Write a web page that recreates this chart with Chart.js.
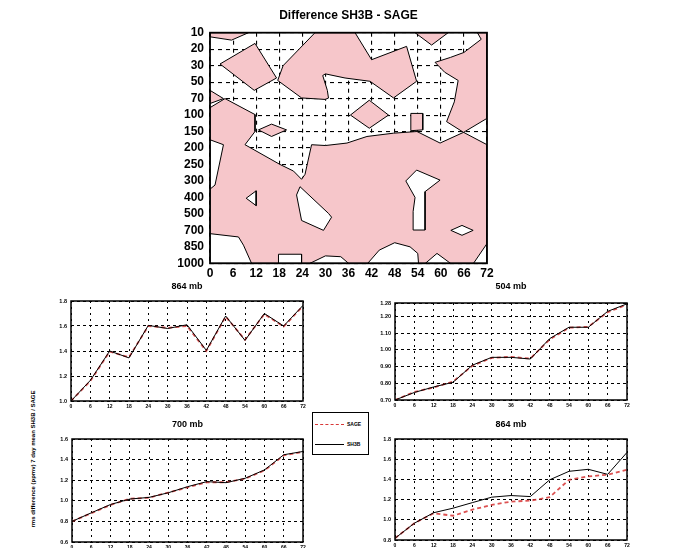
<!DOCTYPE html>
<html lang="en">
<head>
<meta charset="UTF-8">
<title>Difference SH3B - SAGE</title>
<script src="https://cdn.jsdelivr.net/npm/chart.js"></script>
<style>
  body { margin: 0; background: #fff; font-family: 'Liberation Sans', Arial, sans-serif; }
  #page { position: relative; width: 679px; height: 548px; overflow: hidden; background: #fff; }
  #page canvas { position: absolute; }
  #legend { position: absolute; left: 312px; top: 412px; width: 55px; height: 41px; border: 1px solid #000; background: #fff; }
  .key { position: absolute; left: 2px; width: 29px; height: 0; }
  .key.sage { top: 11px; border-top: 1.5px dashed #d83838; }
  .key.sh3b { top: 31px; border-top: 1px solid #000; }
  .key-label { position: absolute; left: 34px; font-size: 5px; line-height: 6px; font-weight: bold; }
  #ylabel { position: absolute; left: 33px; top: 459px; transform: translate(-50%, -50%) rotate(-90deg);
            white-space: nowrap; font-size: 6px; font-weight: bold; }
</style>
</head>
<body>
<div id="page">
  <div id="ylabel">rms difference (ppmv) 7 day mean SH3B / SAGE</div>
  <div id="legend">
    <div class="key sage"></div><div class="key-label" style="top:8px">SAGE</div>
    <div class="key sh3b"></div><div class="key-label" style="top:28px">SH3B</div>
  </div>
</div>
<script>
// forecast hours and pressure levels
const hours = [0, 6, 12, 18, 24, 30, 36, 42, 48, 54, 60, 66, 72];
const levels = ['10', '20', '30', '50', '70', '100', '150', '200', '250', '300', '400', '500', '700', '850', '1000'];

// contour outlines of the difference field: [hour, level index]
const pinkLower = [[0, 4.55], [3.9, 4.0], [11.7, 4.97], [11.7, 6.0], [9.1, 6.8], [18.2, 8.0], [21.7, 8.4], [23.8, 8.9],
  [24.7, 8.6], [26.4, 6.8], [30, 6.85], [35.6, 6.7], [40.8, 6.3], [47.7, 6.1], [53.8, 6.0], [59.8, 6.7],
  [65.9, 6.05], [72, 6.8], [72, 14], [0, 14]];
const pinkTopCorner = [[0, 0], [10, 0], [5.6, 0.45], [0, 0.25]];
const pinkWest = [[2.6, 1.9], [11.7, 0.65], [17.3, 2.75], [11.5, 3.5]];
const pinkCentre = [[27.3, 0], [37.7, 0], [42, 1.64], [51.1, 0.83], [53.7, 2.95], [47.7, 3.96], [41.6, 2.95],
  [35.1, 2.75], [30, 2.5], [29.3, 2.6], [30.5, 3.5], [30.8, 3.97], [29.9, 4.05], [23.8, 3.96], [17.6, 2.9], [19, 2.0]];
const pinkTopRight = [[53.3, 0], [61.9, 0], [57.6, 0.75]];
const pinkEast = [[69.5, 0], [72, 0], [72, 5.2], [65.9, 6.05], [61.5, 5.4], [63.5, 4.2], [64.5, 2.9], [61, 2.4],
  [58.5, 1.8], [62.5, 1.5], [66, 1.2], [70.5, 0.4]];
const pinkLeftWedge = [[0, 3.5], [3.5, 4.0], [0, 4.3]];
const pinkDiamondMid = [[36.5, 5.0], [41.4, 4.1], [46.4, 5.0], [41.4, 5.8]];
const pinkDiamondLeft = [[12.6, 5.9], [16, 5.55], [19.9, 5.9], [16, 6.3]];
const pinkBox = [[52.2, 5.95], [52.2, 4.9], [55.3, 4.9], [55.3, 5.9]];

const whiteLeft = [[0, 6.5], [3.5, 6.8], [1.3, 9.25], [0, 9.5]];
const whiteTriangle = [[9.4, 10.05], [12, 9.6], [12, 10.5]];
const whiteSlot = [[23.4, 9.35], [30.8, 10.97], [31.6, 11.2], [29.5, 12.0], [23.8, 11.4], [22.5, 9.85]];
const whiteKite = [[53.7, 8.34], [59.8, 8.95], [55.9, 9.65], [55.9, 11.98], [52.8, 11.98], [52.8, 10.85], [53.3, 10.0], [50.9, 9.0]];
const whiteDiamond = [[62.6, 12.0], [65.5, 11.7], [68.4, 12.0], [65.5, 12.3]];
const whiteBottomLeft = [[0, 12.2], [7.4, 12.4], [8.7, 12.9], [10.8, 14], [0, 14]];
const whiteBottom1 = [[17.8, 14], [17.8, 13.45], [23.8, 13.45], [23.8, 14]];
const whiteBottom2 = [[26, 14], [30, 13.55], [34, 13.6], [36, 14]];
const whiteBottom3 = [[41, 14], [44, 13.2], [48, 12.75], [52, 13.0], [54, 13.4], [54.2, 14]];
const whiteBottom4 = [[56, 14], [59, 13.4], [62.5, 14]];
const whiteBottom5 = [[68.5, 14], [72, 12.8], [72, 14]];

const pinkAreas = [pinkTopCorner, pinkWest, pinkCentre, pinkTopRight, pinkEast, pinkLeftWedge,
  pinkDiamondMid, pinkDiamondLeft, pinkBox];
const whiteAreas = [whiteLeft, whiteTriangle, whiteSlot, whiteKite, whiteDiamond, whiteBottomLeft,
  whiteBottom1, whiteBottom2, whiteBottom3, whiteBottom4, whiteBottom5];

// rms series per level (SH3B solid black, SAGE dashed red)
const sh3b864top = [1.0, 1.165, 1.40, 1.345, 1.605, 1.58, 1.61, 1.405, 1.68, 1.485, 1.70, 1.60, 1.765];
const sage864top = [1.0, 1.16, 1.395, 1.35, 1.60, 1.585, 1.60, 1.40, 1.675, 1.49, 1.695, 1.595, 1.76];
const sh3b504 = [0.70, 0.745, 0.778, 0.806, 0.908, 0.955, 0.955, 0.945, 1.067, 1.135, 1.135, 1.23, 1.275];
const sage504 = [0.70, 0.748, 0.775, 0.81, 0.905, 0.952, 0.958, 0.948, 1.062, 1.132, 1.138, 1.225, 1.27];
const sh3b700 = [0.80, 0.883, 0.964, 1.017, 1.033, 1.078, 1.137, 1.186, 1.176, 1.219, 1.30, 1.447, 1.479];
const sage700 = [0.80, 0.88, 0.96, 1.02, 1.03, 1.08, 1.13, 1.18, 1.18, 1.215, 1.295, 1.44, 1.475];
const sh3b864 = [0.817, 0.966, 1.07, 1.115, 1.17, 1.224, 1.24, 1.23, 1.396, 1.48, 1.50, 1.45, 1.667];
const sage864 = [0.817, 0.966, 1.065, 1.04, 1.10, 1.148, 1.18, 1.19, 1.224, 1.396, 1.43, 1.446, 1.495];

const FONT = "'Liberation Sans', Arial, sans-serif";
Chart.defaults.font.family = FONT;
Chart.defaults.color = '#000';

const page = document.getElementById('page');
function addCanvas(left, top, w, h) {
    const c = document.createElement('canvas');
    c.width = w; c.height = h;
    c.style.left = left + 'px'; c.style.top = top + 'px';
    c.style.width = w + 'px'; c.style.height = h + 'px';
    page.insertBefore(c, page.firstChild);
    return c;
}

// black box round the plot area
const framePlugin = {
    id: 'frame',
    afterDraw(chart, args, opts) {
        const { ctx, chartArea: a } = chart;
        ctx.save();
        ctx.strokeStyle = '#000';
        ctx.lineWidth = opts.width || 1.5;
        ctx.strokeRect(a.left, a.top, a.right - a.left, a.bottom - a.top);
        ctx.restore();
    }
};

function ring(pts) {
    return pts.concat([pts[0]]).map(p => ({ x: p[0], y: p[1] }));
}
function area(pts, colour, order) {
    return { data: ring(pts), fill: 'shape', backgroundColor: colour, borderColor: '#000',
             borderWidth: 1, pointRadius: 0, tension: 0, order: order };
}

// ---- contour panel ----
const PINK = '#f6c6ca';
const contourSets = [area(pinkLower, PINK, 3)]
    .concat(pinkAreas.map(p => area(p, PINK, 2)))
    .concat(whiteAreas.map(p => area(p, '#ffffff', 1)));

new Chart(addCanvas(150, 0, 350, 285), {
    type: 'line',
    data: { datasets: contourSets },
    plugins: [framePlugin],
    options: {
        responsive: false, animation: false, events: [],
        layout: { padding: { top: 3, right: 13, bottom: 0, left: 0 } },
        plugins: {
            legend: { display: false }, tooltip: { enabled: false },
            frame: { width: 1.8 },
            title: { display: true, text: 'Difference SH3B - SAGE', fullSize: false, color: '#000',
                     font: { size: 12, weight: 'bold' }, padding: { top: 5.8, bottom: 9.5 } }
        },
        scales: {
            x: {
                type: 'linear', min: 0, max: 72, z: 1,
                afterFit: s => { s.height = 21.7; },
                grid: { color: '#000', lineWidth: 1.1, drawTicks: false },
                border: { display: false, dash: [4, 4] },
                ticks: { stepSize: 6, autoSkip: false, maxRotation: 0, padding: 3,
                         font: { size: 12, weight: 'bold' } }
            },
            y: {
                type: 'linear', min: 0, max: 14, reverse: true, z: 1,
                afterFit: s => { s.width = 60; },
                grid: { color: '#000', lineWidth: 1.1, drawTicks: false },
                border: { display: false, dash: [4, 4] },
                ticks: { stepSize: 1, autoSkip: false, padding: 6, font: { size: 12, weight: 'bold' },
                         callback: v => levels[v] }
            }
        }
    }
});

// ---- four rms panels ----
function pairs(vals) {
    return hours.map((h, k) => ({ x: h, y: vals[k] }));
}

const panels = [
    { title: '864 mb', box: { l: 71, t: 301, r: 303, b: 401 }, titleY: 287, yMin: 1.0, yMax: 1.8, yStep: 0.2, digits: 1,
      sh3b: sh3b864top, sage: sage864top },
    { title: '504 mb', box: { l: 395, t: 303, r: 627, b: 400 }, titleY: 287, yMin: 0.70, yMax: 1.28, yStep: 0.1, digits: 2,
      sh3b: sh3b504, sage: sage504 },
    { title: '700 mb', box: { l: 72, t: 439, r: 303, b: 542 }, titleY: 425, yMin: 0.6, yMax: 1.6, yStep: 0.2, digits: 1,
      sh3b: sh3b700, sage: sage700 },
    { title: '864 mb', box: { l: 395, t: 439, r: 627, b: 540 }, titleY: 425, yMin: 0.8, yMax: 1.8, yStep: 0.2, digits: 1,
      sh3b: sh3b864, sage: sage864 }
];

panels.forEach(p => {
    const b = p.box;
    const w = b.r - b.l + 40;
    const h = b.b - p.titleY + 20;
    new Chart(addCanvas(b.l - 32, p.titleY - 8, w, h), {
        type: 'line',
        data: {
            datasets: [
                { label: 'SH3B', data: pairs(p.sh3b), borderColor: '#000', borderWidth: 1,
                  pointRadius: 0, tension: 0, order: 1 },
                { label: 'SAGE', data: pairs(p.sage), borderColor: 'rgba(214,50,50,0.85)', borderWidth: 1.8,
                  borderDash: [4, 3], pointRadius: 0, tension: 0, order: 2 }
            ]
        },
        plugins: [framePlugin],
        options: {
            responsive: false, animation: false, events: [],
            layout: { padding: { top: 0, right: 8, bottom: 0, left: 0 } },
            plugins: {
                legend: { display: false }, tooltip: { enabled: false },
                frame: { width: 1.5 },
                title: { display: true, text: p.title, fullSize: false, color: '#000',
                         font: { size: 9, weight: 'bold' },
                         padding: { top: 2.6, bottom: b.t - p.titleY - 5.4 } }
            },
            scales: {
                x: {
                    type: 'linear', min: 0, max: 72,
                    afterFit: s => { s.height = 12; },
                    grid: { color: '#000', lineWidth: 1, drawTicks: false },
                    border: { display: false, dash: [2, 4] },
                    ticks: { stepSize: 6, autoSkip: false, maxRotation: 0, padding: 3,
                             font: { size: 5, weight: 'bold' } }
                },
                y: {
                    type: 'linear', min: p.yMin, max: p.yMax,
                    afterFit: s => { s.width = 32; },
                    grid: { color: '#000', lineWidth: 1, drawTicks: false },
                    border: { display: false, dash: [3, 3] },
                    ticks: { stepSize: p.yStep, autoSkip: false, padding: 4,
                             font: { size: 5.5, weight: 'bold' },
                             callback: v => Number(v).toFixed(p.digits) }
                }
            }
        }
    });
});
</script>
</body>
</html>
